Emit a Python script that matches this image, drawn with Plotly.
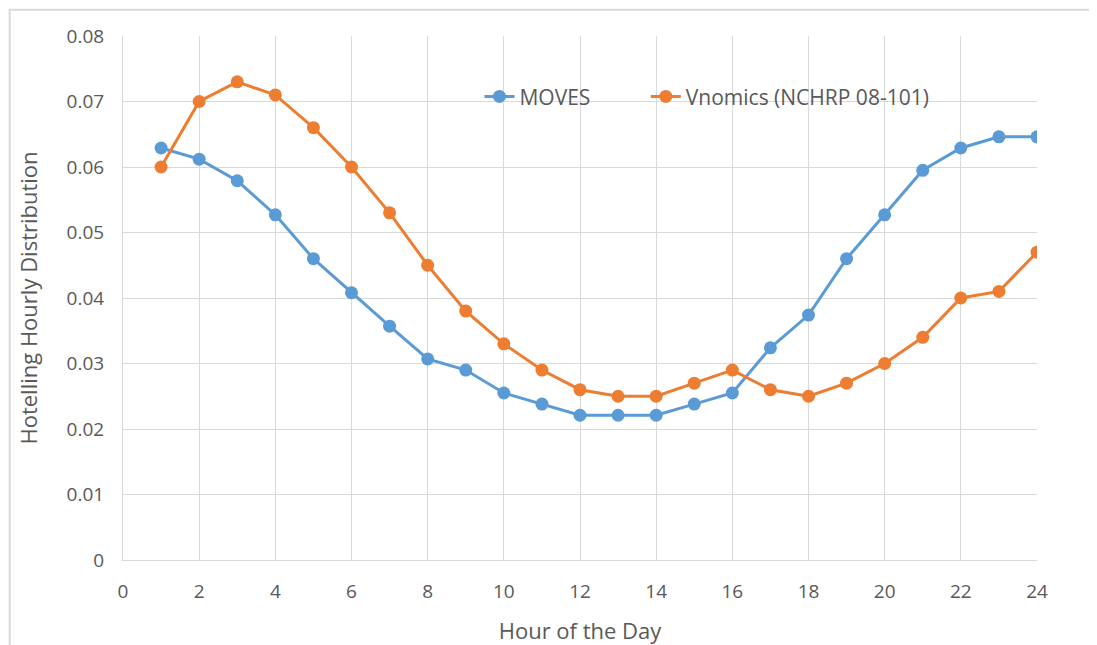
import plotly.graph_objects as go

hours = list(range(1, 25))
moves = [0.0629, 0.0612, 0.0579, 0.0527, 0.0460, 0.0408, 0.0357, 0.0307,
         0.0290, 0.0255, 0.0238, 0.0221, 0.0221, 0.0221, 0.0238, 0.0255,
         0.0324, 0.0374, 0.0460, 0.0527, 0.0595, 0.0629, 0.0646, 0.0646]
vnomics = [0.060, 0.070, 0.073, 0.071, 0.066, 0.060, 0.053, 0.045,
           0.038, 0.033, 0.029, 0.026, 0.025, 0.025, 0.027, 0.029,
           0.026, 0.025, 0.027, 0.030, 0.034, 0.040, 0.041, 0.047]
y_ticks = [0, 0.01, 0.02, 0.03, 0.04, 0.05, 0.06, 0.07, 0.08]
y_labels = ["0", "0.01", "0.02", "0.03", "0.04", "0.05", "0.06", "0.07", "0.08"]

grey = "#595959"
fig = go.Figure()
fig.add_trace(go.Scatter(x=hours, y=moves, name="MOVES", mode="lines+markers",
                         line=dict(color="#5B9BD5", width=3),
                         marker=dict(size=13, color="#5B9BD5"),
                         legend="legend", showlegend=True))
fig.add_trace(go.Scatter(x=hours, y=vnomics, name="Vnomics (NCHRP 08-101)",
                         mode="lines+markers",
                         line=dict(color="#ED7D31", width=3),
                         marker=dict(size=13, color="#ED7D31"),
                         legend="legend2", showlegend=True))

leg = dict(orientation="h", y=0.884, xanchor="left", yanchor="middle",
           bgcolor="rgba(0,0,0,0)", font=dict(size=21, color=grey))

# page body has an 8px default margin, so the margins are shifted by 8px
fig.update_layout(
    width=1097, height=645, showlegend=True,
    margin=dict(l=115, r=68, t=28, b=93),
    paper_bgcolor="white", plot_bgcolor="white",
    font=dict(family="Open Sans, sans-serif", size=19, color=grey),
    legend=dict(leg, x=0.39),
    legend2=dict(leg, x=0.572),
    xaxis=dict(range=[0, 24], dtick=2, showgrid=True, gridcolor="#D9D9D9",
               gridwidth=1, zeroline=False, showline=True, linecolor="#D9D9D9",
               ticks="", ticklabelstandoff=14, automargin=False,
               tickfont=dict(size=19, color=grey),
               title=dict(text="Hour of the Day", font=dict(size=22, color=grey),
                          standoff=20)),
    yaxis=dict(range=[0, 0.08], tickvals=y_ticks, ticktext=y_labels,
               showgrid=True, gridcolor="#D9D9D9", gridwidth=1, zeroline=False,
               showline=True, linecolor="#D9D9D9", ticks="",
               ticklabelstandoff=14, automargin=False,
               tickfont=dict(size=19, color=grey),
               title=dict(text="Hotelling Hourly Distribution",
                          font=dict(size=22, color=grey), standoff=22)),
)
fig.add_shape(type="rect", xref="paper", yref="paper",
              x0=-0.124, x1=1.08, y0=-0.2, y1=1.05,
              line=dict(color="#D9D9D9", width=2), fillcolor="rgba(0,0,0,0)",
              layer="below")

fig.write_html("out.html")
